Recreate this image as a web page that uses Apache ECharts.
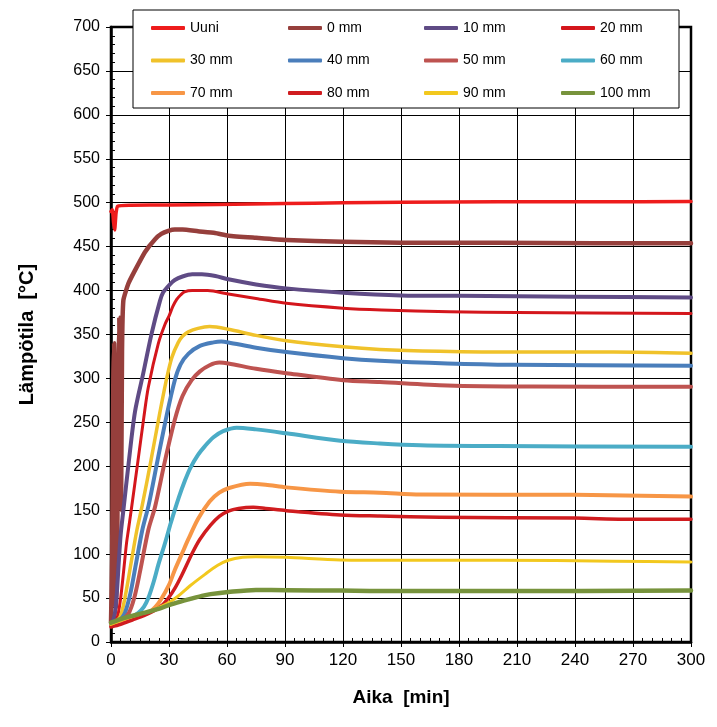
<!DOCTYPE html>
<html><head><meta charset="utf-8">
<script src="https://cdn.jsdelivr.net/npm/echarts@6/dist/echarts.min.js"></script>
<style>html,body{margin:0;padding:0;background:#fff}#c{width:717px;height:727px}</style>
</head><body><div id="c"></div>
<script>
// ---- data (time [min], temperature [°C]) ----
const xMin = 0, xMax = 300, xStep = 30;
const yMin = 0, yMax = 700, yStep = 50;

const uuni = [[0,490],[0.7,492],[1.3,478],[1.9,469],[2.6,488],[3.4,496],[10,497],[30,497.5],[55,498],[90,499],[120,500],[150,500.5],[200,501],[250,501],[300,501.5]];
const mm0 = [[0,22],[0.6,100],[1.2,300],[1.6,340],[2.0,250],[2.5,40],[3.2,100],[3.8,300],[4.3,369],[4.8,200],[5.2,150],[5.7,330],[6.4,389],[9,408],[12.4,423],[17.6,444],[22.8,458.5],[26,464.5],[29.7,468],[33,469.5],[37,469.5],[45,467.5],[53.8,465.5],[60.7,462.5],[75,460],[90.7,457.5],[120,455.6],[150,454.5],[200,454.5],[250,454],[300,454]];
const mm10 = [[0,22],[1,24],[2,32],[3,55],[4,90],[5,122],[6.4,150],[9.2,205],[12.4,262],[16.7,306],[21,351],[25.3,388],[27,398],[30,406],[33,412],[37,416],[42,418.5],[47,418.5],[54,416.6],[60.7,412.8],[75,407],[90.7,402.5],[120,397.6],[150,394.5],[180,394],[240,393],[300,392]];
const mm20 = [[0,18],[2,21],[3.5,30],[5,50],[6.5,80],[8,112],[9,127.5],[10.7,154],[14,207],[17,256],[19.3,290],[24.5,340],[28,362],[30,371],[32,382],[34,390],[36,395],[38,398.5],[42,400],[50,400],[60.7,396],[75,391],[90.7,385.5],[120,380],[140,378],[175,376],[210,375],[300,374]];
const mm30 = [[0,21],[3,24],[5,30],[7,48],[9,72],[11,98],[13.4,127.5],[16.2,156],[20.7,207],[25,258],[28.8,300],[31.5,324],[34.8,341],[37,348],[40,353],[45,357],[51,359],[60.7,356],[75,349],[90.7,343],[120,336],[139,333],[170,331],[210,330],[260,330],[300,328.6]];
const mm40 = [[0,21],[4,24],[7,32],[10,55],[13,90],[16.2,127.5],[19.5,156],[24.1,207],[28.8,258],[33,298],[36,316],[40,328],[46,337],[53,341],[57,342],[60.7,341],[75,335],[90.7,330],[120,323],[139,320],[174,317],[208,315.5],[300,314.5]];
const mm50 = [[0,21],[5,24],[9,32],[12,50],[15,80],[19.3,127.5],[22.8,154],[28,207],[33,253],[37,280],[41.7,298],[46,308],[51,315],[56,318],[60.7,317],[75,311],[90.7,306],[120,298],[139,296],[174,292],[218,290.8],[300,290.6]];
const mm60 = [[0,21],[5,24],[10,28],[14,33],[17,40],[19.3,50],[22,68],[24.5,88],[28,113],[31,136],[35,164],[38.3,184],[41,198],[45,213],[48.6,223],[53,233],[58,240],[65,244],[75,242],[90.7,237.5],[118.6,229],[139,226],[160,224],[200,223],[300,222.3]];
const mm70 = [[0,21],[5,24],[10,27],[15,30],[19.3,33],[23,40],[26,49],[30,65],[33,82],[36.6,100],[40,117],[45,140],[51,160],[56,170],[60.7,175],[71.9,180],[80,179],[90.7,176],[118.6,171],[139,170],[160,168],[240,167.5],[300,165.5]];
const mm80 = [[0,17],[5,20],[11,25],[17,30],[23,36.5],[27,43],[29.7,50],[33,61],[36.6,76],[42,101],[46,117],[51.5,133],[56,143],[60.7,149],[66,152],[73.6,153.3],[80,152],[90.7,149.5],[118.6,144.6],[139,143.4],[170,142],[240,141],[265,139.8],[300,139.6]];
const mm90 = [[0,20],[7,26],[14,31],[20,35],[25,39.5],[30,45],[34.8,52.4],[40.9,64],[48.6,77],[55,87],[60.7,93],[68,96.5],[75,97.1],[90.7,96.4],[118.6,93.3],[139,93],[200,93],[260,92],[300,91]];
const mm100 = [[0,22],[7,27.5],[17.6,33.4],[25,38],[30,42],[36,46],[41,49],[47,52.5],[51.5,54.5],[60.7,57],[75,59.3],[90.7,59],[118.6,58.5],[139,58],[200,58],[300,58.5]];

const names = ['Uuni','0 mm','10 mm','20 mm','30 mm','40 mm','50 mm','60 mm','70 mm','80 mm','90 mm','100 mm'];
const datasets = [uuni, mm0, mm10, mm20, mm30, mm40, mm50, mm60, mm70, mm80, mm90, mm100];
const colors = ['#EE1C1C','#963F3C','#5F4B85','#D4161C','#F0C22A','#4A7EBB','#BE5350','#4BACC6','#F79646','#D01C1F','#F2C81E','#77933C'];
const widths = [3.5,4.5,4,3,3.5,4,4,4,4,3.5,3,4.5];

const legendCols = [
  ['Uuni','30 mm','70 mm'],
  ['0 mm','40 mm','80 mm'],
  ['10 mm','50 mm','90 mm'],
  ['20 mm','60 mm','100 mm']
];
const legendLeft = [151, 288, 424, 561];

const chart = echarts.init(document.getElementById('c'));
const font = "'Liberation Sans', Arial, sans-serif";

const series = names.map((n, i) => ({
  name: n, type: 'line', data: datasets[i], showSymbol: false,
  smooth: i <= 1 ? 0.15 : 0.3,
  xAxisIndex: 0, yAxisIndex: 0,
  lineStyle: { color: colors[i], width: widths[i], cap: 'round', join: 'round' },
  itemStyle: { color: colors[i] },
  z: 3, animation: false
}));

const legends = legendCols.map((col, i) => ({
  data: col, orient: 'vertical', left: legendLeft[i], top: 20, padding: 0,
  icon: 'roundRect', itemWidth: 34, itemHeight: 4, itemGap: 16.5, itemTextGap: 7,
  selectedMode: false, z: 20,
  textStyle: { fontFamily: font, fontSize: 14, color: '#000', lineHeight: 16 }
}));

chart.setOption({
  backgroundColor: '#fff',
  animation: false,
  grid: { left: 111, right: 26, top: 27, bottom: 85, show: true, borderColor: '#000', borderWidth: 2.5, containLabel: false },
  legend: legends,
  graphic: [{ type: 'rect', z: 15, shape: { x: 133, y: 10, width: 546, height: 98 }, style: { fill: '#fff', stroke: '#000', lineWidth: 1 } }],
  xAxis: [
    { type: 'value', min: xMin, max: xMax, interval: xStep, position: 'bottom',
      name: 'Aika  [min]', nameLocation: 'middle', nameGap: 46,
      nameTextStyle: { fontFamily: font, fontSize: 19, fontWeight: 'bold', color: '#000' },
      axisLine: { show: true, lineStyle: { color: '#000', width: 2.5 } },
      axisTick: { show: true, length: 5, lineStyle: { color: '#000' } },
      axisLabel: { fontFamily: font, fontSize: 17, color: '#000', margin: 10 },
      splitLine: { show: true, lineStyle: { color: '#000', width: 1 } } },
    { type: 'value', min: xMin, max: xMax, interval: xStep, position: 'bottom',
      axisLine: { show: false }, axisLabel: { show: false }, splitLine: { show: false },
      axisTick: { show: false, inside: true },
      minorTick: { show: true, splitNumber: 6, length: 4, lineStyle: { color: '#000', width: 1 } } }
  ],
  yAxis: [
    { type: 'value', min: yMin, max: yMax, interval: yStep, position: 'left',
      name: 'Lämpötila  [°C]', nameLocation: 'middle', nameGap: 74,
      nameTextStyle: { fontFamily: font, fontSize: 20, fontWeight: 'bold', color: '#000' },
      axisLine: { show: true, lineStyle: { color: '#000', width: 2.5 } },
      axisTick: { show: true, length: 5, lineStyle: { color: '#000' } },
      axisLabel: { fontFamily: font, fontSize: 16, color: '#000', margin: 11 },
      splitLine: { show: true, lineStyle: { color: '#000', width: 1 } } },
    { type: 'value', min: yMin, max: yMax, interval: yStep, position: 'left',
      axisLine: { show: false }, axisLabel: { show: false }, splitLine: { show: false },
      axisTick: { show: false, inside: true },
      minorTick: { show: true, splitNumber: 5, length: 4, lineStyle: { color: '#000', width: 1 } } }
  ],
  series: series
});
</script></body></html>
